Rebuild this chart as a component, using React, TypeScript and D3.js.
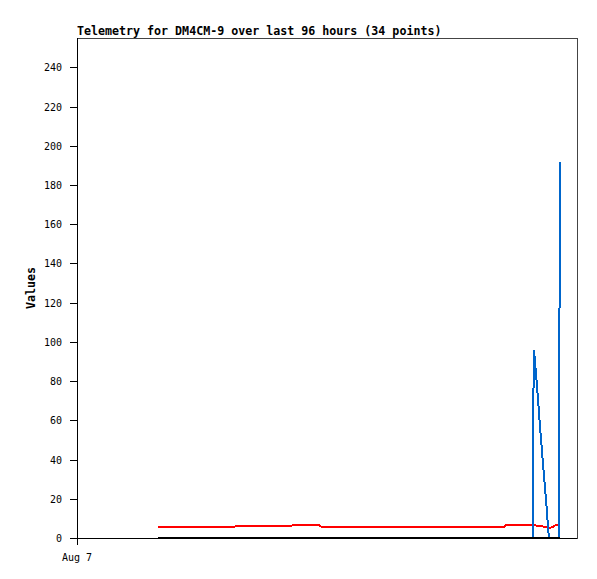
import React from "react";
import * as d3 from "d3";

const title = "Telemetry for DM4CM-9 over last 96 hours (34 points)";
const yLabel = "Values";
const xTickLabels = ["Aug 7"];
const yTicks = [0, 20, 40, 60, 80, 100, 120, 140, 160, 180, 200, 220, 240];

const times = [
  "03:53", "04:30", "05:05", "05:45", "06:23", "07:00", "07:35", "07:41",
  "08:20", "09:01", "09:40", "10:19", "10:25", "11:37", "11:43", "13:06",
  "14:33", "15:59", "17:25", "18:52", "20:30", "20:36", "21:52", "21:53",
  "21:56", "22:05", "22:16", "22:31", "22:39", "22:48", "23:00", "23:07",
  "23:09", "23:12",
];
const redValues = [
  5.8, 5.8, 5.8, 5.8, 5.8, 5.8, 5.8, 6.3,
  6.3, 6.3, 6.3, 6.3, 6.8, 6.8, 5.8, 5.8,
  5.8, 5.8, 5.8, 5.8, 5.8, 6.8, 6.8, 6.8,
  6.8, 6.2, 6.1, 5.4, 5.2, 5.4, 6.8, 6.8,
  6.8, 6.8,
];
const blueValues = [
  0, 0, 0, 0, 0, 0, 0, 0,
  0, 0, 0, 0, 0, 0, 0, 0,
  0, 0, 0, 0, 0, 0, 0, 48,
  96, 77, 51, 19, 0, 0, 0, 0,
  96, 192,
];
const blackValues = times.map(() => 0);

const W = 597;
const H = 579;
const M = { left: 77, right: 577, top: 38, bottom: 538 };

const parse = (hm: string) => {
  const [h, m] = hm.split(":").map(Number);
  return new Date(2023, 7, 7, h, m);
};
const dates = times.map(parse);

export default function App() {
  const x = d3
    .scaleTime()
    .domain([new Date(2023, 7, 7, 0, 0), new Date(2023, 7, 8, 0, 0)])
    .range([M.left, M.right]);
  const y = d3.scaleLinear().domain([0, 255]).range([M.bottom, M.top]);

  const line = (vals: number[]) =>
    d3
      .line<number>()
      .x((_, i) => x(dates[i]))
      .y((d) => y(d))(vals) || "";

  const xTickDates = [new Date(2023, 7, 7, 0, 0)];
  const mono = "'DejaVu Sans Mono', monospace";

  return (
    <svg
      width={W}
      height={H}
      style={{ position: "absolute", left: 0, top: 0, background: "#fff" }}
    >
      <rect x={0} y={0} width={W} height={H} fill="#fff" />
      <text
        x={M.left}
        y={35}
        fontFamily={mono}
        fontWeight="bold"
        fontSize={11.65}
        fill="#000"
      >
        {title}
      </text>
      {/* frame */}
      <line x1={M.left} x2={M.right} y1={M.top + 0.5} y2={M.top + 0.5} stroke="#444" strokeWidth={1} />
      <line x1={M.right + 0.5} x2={M.right + 0.5} y1={M.top} y2={M.bottom + 1} stroke="#444" strokeWidth={1} />
      <line x1={M.left} x2={M.right} y1={M.bottom + 0.5} y2={M.bottom + 0.5} stroke="#000" strokeWidth={1} />
      <line x1={M.left + 0.5} x2={M.left + 0.5} y1={M.top} y2={M.bottom + 7} stroke="#000" strokeWidth={1} />
      {yTicks.map((t) => (
        <g key={t}>
          <line
            x1={M.left - 7}
            x2={M.left}
            y1={Math.round(y(t)) + 0.5}
            y2={Math.round(y(t)) + 0.5}
            stroke="#000"
          />
          <text
            x={62}
            y={Math.round(y(t)) + 4}
            textAnchor="end"
            fontFamily={mono}
            fontSize={10}
            fill="#000"
          >
            {t}
          </text>
        </g>
      ))}
      {xTickDates.map((d, i) => (
        <text
          key={i}
          x={x(d)}
          y={561}
          textAnchor="middle"
          fontFamily={mono}
          fontSize={10}
          fill="#000"
        >
          {xTickLabels[i]}
        </text>
      ))}
      <text
        transform={`translate(35,288) rotate(-90)`}
        textAnchor="middle"
        fontFamily={mono}
        fontWeight="bold"
        fontSize={11.65}
        fill="#000"
      >
        {yLabel}
      </text>
      <g fill="none" strokeWidth={2} shapeRendering="crispEdges">
        <path d={line(redValues)} stroke="#ff0000" />
        <path d={line(blueValues)} stroke="#0066cc" />
        <path d={line(blackValues)} stroke="#000" />
      </g>
    </svg>
  );
}
